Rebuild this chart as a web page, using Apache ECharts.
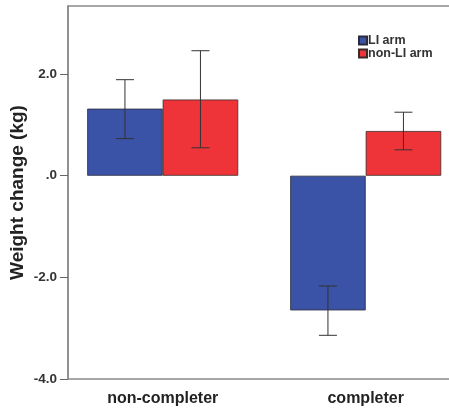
<!DOCTYPE html>
<html>
<head>
<meta charset="utf-8">
<script src="https://cdn.jsdelivr.net/npm/echarts@6/dist/echarts.min.js"></script>
<style>
  html, body { margin: 0; padding: 0; background: #fff; }
  #chart { width: 449px; height: 409px; }
</style>
</head>
<body>
<div id="chart"></div>
<script>
const categories = ['non-completer', 'completer'];
const seriesNames = ['LI arm', 'non-LI arm'];
const liArm = [1.32, -2.65];
const nonLiArm = [1.50, 0.88];
const liArmLow = [0.73, -3.14];
const liArmHigh = [1.89, -2.17];
const nonLiArmLow = [0.55, 0.51];
const nonLiArmHigh = [2.46, 1.25];
const yTicks = [-4, -2, 0, 2];
const yTickLabels = ['-4.0', '-2.0', '.0', '2.0'];

const barW = 75.5;
const yMin = -4, yMax = 3.34;

function errorSeries(low, high, side) {
  return {
    type: 'custom',
    xAxisIndex: 1,
    yAxisIndex: 1,
    z: 5,
    data: categories.map((c, i) => [i, low[i], high[i]]),
    encode: { x: 0, y: [1, 2] },
    renderItem: function (params, api) {
      const i = api.value(0);
      const lo = api.coord([i, api.value(1)]);
      const hi = api.coord([i, api.value(2)]);
      const x = lo[0] + side * barW / 2;
      const cap = 9;
      const style = { stroke: '#333', lineWidth: 1 };
      return {
        type: 'group',
        children: [
          { type: 'line', shape: { x1: x, y1: lo[1], x2: x, y2: hi[1] }, style: style },
          { type: 'line', shape: { x1: x - cap, y1: lo[1], x2: x + cap, y2: lo[1] }, style: style },
          { type: 'line', shape: { x1: x - cap, y1: hi[1], x2: x + cap, y2: hi[1] }, style: style }
        ]
      };
    }
  };
}

const myChart = echarts.init(document.getElementById('chart'));
myChart.setOption({
  animation: false,
  grid: [
    { left: 68, width: 395, top: 6, bottom: 30, outerBoundsMode: 'none', show: true, borderColor: '#8a8a8a', borderWidth: 1.5 },
    { left: 61.2, width: 406, top: 6, bottom: 30, outerBoundsMode: 'none' }
  ],
  legend: {
    data: seriesNames,
    orient: 'vertical',
    left: 358,
    top: 34,
    padding: 0,
    itemGap: 0,
    itemWidth: 8,
    itemHeight: 8,
    icon: 'rect',
    textStyle: { fontFamily: 'Liberation Sans', fontSize: 12.5, fontWeight: 'bold', color: '#333', padding: [0, 0, 0, -4] }
  },
  xAxis: [
    { gridIndex: 0, type: 'value', show: false, min: 0, max: 1 },
    {
      gridIndex: 1,
      type: 'category',
      data: categories,
      axisLine: { show: false },
      axisTick: { alignWithLabel: true, length: 8, lineStyle: { color: '#555' } },
      axisLabel: { margin: 12, fontFamily: 'Liberation Sans', fontSize: 16, fontWeight: 'bold', color: '#222' }
    }
  ],
  yAxis: [
    {
      gridIndex: 0,
      type: 'value',
      min: yMin,
      max: yMax,
      name: 'Weight change (kg)',
      nameLocation: 'middle',
      nameGap: 41,
      nameMoveOverlap: false,
      nameTextStyle: { fontFamily: 'Liberation Sans', fontSize: 19, fontWeight: 'bold', color: '#222' },
      axisLine: { show: true, lineStyle: { color: '#8a8a8a', width: 1.5 } },
      axisTick: { show: true, length: 8, customValues: yTicks, lineStyle: { color: '#666' } },
      axisLabel: {
        margin: 11,
        customValues: yTicks,
        fontFamily: 'Liberation Sans',
        fontSize: 13.5,
        fontWeight: 'bold',
        color: '#333',
        formatter: v => yTickLabels[yTicks.indexOf(v)]
      },
      splitLine: { show: false }
    },
    { gridIndex: 1, type: 'value', min: yMin, max: yMax, show: false }
  ],
  series: [
    {
      name: seriesNames[0],
      type: 'bar',
      xAxisIndex: 1,
      yAxisIndex: 1,
      barWidth: barW,
      barGap: '0%',
      data: liArm,
      itemStyle: { color: '#3b53a6', borderColor: '#2a2a3a', borderWidth: 0.8 }
    },
    {
      name: seriesNames[1],
      type: 'bar',
      xAxisIndex: 1,
      yAxisIndex: 1,
      barWidth: barW,
      barGap: '0%',
      data: nonLiArm,
      itemStyle: { color: '#ee3439', borderColor: '#3a2a2a', borderWidth: 0.8 }
    },
    errorSeries(liArmLow, liArmHigh, -1),
    errorSeries(nonLiArmLow, nonLiArmHigh, 1)
  ]
});
</script>
</body>
</html>
